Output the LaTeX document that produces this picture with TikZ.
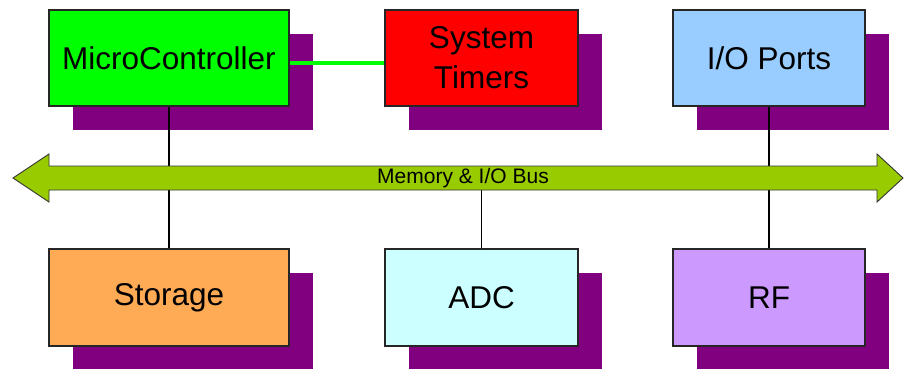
\documentclass[tikz,border=0pt]{standalone}
\usepackage{fontspec}
\setmainfont{Liberation Sans}
\usetikzlibrary{shadows}
\definecolor{shadowpurple}{HTML}{800080}
\definecolor{busgreen}{HTML}{99CC00}
\definecolor{mcgreen}{HTML}{00FF00}
\definecolor{tmred}{HTML}{FF0000}
\definecolor{ioblue}{HTML}{99CCFF}
\definecolor{storange}{HTML}{FFAA55}
\definecolor{adccyan}{HTML}{CCFFFF}
\definecolor{rfviolet}{HTML}{CC99FF}
\begin{document}
\begin{tikzpicture}[x=1pt,y=-1pt,
  blockbox/.style={draw=black!85, line width=1.1pt, minimum height=96pt, inner sep=0pt,
    align=center, font=\fontsize{31.5}{40}\selectfont,
    drop shadow={shadow xshift=24pt, shadow yshift=-24pt, opacity=1, fill=shadowpurple}},
  wire/.style={draw=black, line width=1.2pt},
  buslabel/.style={font=\fontsize{21}{24}\selectfont, inner sep=0pt}]
\clip (0,0) rectangle (904,369);
\fill[white] (0,0) rectangle (904,369);
% blocks
\node[blockbox, fill=mcgreen, minimum width=240pt] (mc) at (169,58) {MicroController};
\node[blockbox, fill=tmred, minimum width=193pt] (tm) at (481.5,58) {System\\Timers};
\node[blockbox, fill=ioblue, minimum width=192pt] (io) at (769,58) {I/O Ports};
\node[blockbox, fill=storange, minimum width=240pt, minimum height=97pt] (st) at (169,297.5) {Storage};
\node[blockbox, fill=adccyan, minimum width=193pt, minimum height=97pt] (adc) at (481.5,297.5) {ADC};
\node[blockbox, fill=rfviolet, minimum width=192pt, minimum height=97pt] (rf) at (769,297.5) {RF};
% bus label position
\coordinate (buscenter) at (463,178);
% vertical connectors (under the bus)
\draw[wire] (mc.south) -- (st.north);
\draw[wire] (io.south) -- (rf.north);
\draw[wire] (adc.north) -- (adc.north |- buscenter);
% bus arrow
\draw[fill=busgreen, draw=black!80, line width=0.9pt, line join=miter]
  (13,178) -- (49,154) -- (49,166) -- (877,166) -- (877,154) -- (903,178)
  -- (877,202) -- (877,190) -- (49,190) -- (49,202) -- cycle;
\node[buslabel] (bus) at (buscenter) {Memory \& I/O Bus};
% green link
\draw[draw=mcgreen, line width=4pt] ([yshift=-5pt]mc.east) -- ([yshift=-5pt]tm.west);
\end{tikzpicture}
\end{document}
